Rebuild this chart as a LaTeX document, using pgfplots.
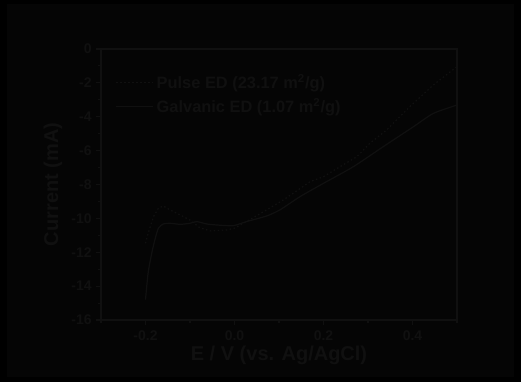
\documentclass[border=0pt]{standalone}
\usepackage{fontspec}
\setmainfont{Liberation Sans}
\usepackage{pgfplots}
\pgfplotsset{compat=1.18}
\definecolor{fg}{RGB}{16,16,16}
\definecolor{innerbg}{RGB}{5,5,5}
\begin{document}
\begin{tikzpicture}[x=0.75pt,y=0.75pt]
\fill[black] (0,0) rectangle (521,382);
\fill[innerbg] (7,5) rectangle (514,378);
\begin{axis}[
  at={(101pt*0.75,62pt*0.75)}, anchor=south west,
  scale only axis, width=267pt, height=203.25pt,
  xmin=-0.3, xmax=0.5, ymin=-16, ymax=0,
  xtick={-0.2,0,0.2,0.4}, minor xtick={-0.3,-0.1,0.1,0.3,0.5},
  ytick={0,-2,-4,-6,-8,-10,-12,-14,-16},
  minor ytick={-1,-3,-5,-7,-9,-11,-13,-15},
  xticklabels={-0.2,0.0,0.2,0.4},
  axis line style={fg, line width=0.8pt},
  every tick/.style={fg, line width=0.8pt},
  tick align=outside, xtick pos=bottom, ytick pos=left,
  major tick length=3.5pt, minor tick length=2pt,
  /pgf/number format/assume math mode=true,
  ticklabel style={font=\bfseries\fontsize{10.5}{12}\selectfont, text=fg},
  xticklabel style={yshift=-1pt},
  label style={font=\bfseries\fontsize{15}{17}\selectfont, text=fg},
  xlabel={E / V (vs. Ag/AgCl)},
  ylabel={Current (mA)},
  xlabel style={at={(axis description cs:0.5,-0.132)}, anchor=center},
  ylabel style={at={(axis description cs:-0.135,0.5)}, anchor=center, rotate=0},
  legend style={at={(axis description cs:0.04,0.915)}, anchor=north west,
    draw=none, fill=none, font=\bfseries\fontsize{12.3}{14}\selectfont, text=fg,
    row sep=2pt, inner sep=0pt},
  legend cell align=left,
  legend image code/.code={\draw[#1] (0pt,0pt) -- (28pt,0pt);},
]
\addplot[fg, line width=0.9pt, dash pattern=on 1.1pt off 1.9pt] coordinates {
(-0.2,-11.47) (-0.194,-10.88) (-0.182,-9.9) (-0.171,-9.4) (-0.16,-9.27)
(-0.145,-9.5) (-0.122,-9.8) (-0.1,-10.1) (-0.078,-10.55) (-0.055,-10.74)
(-0.017,-10.68) (0.0,-10.58) (0.027,-10.19) (0.072,-9.5) (0.11,-8.91)
(0.17,-7.83) (0.2,-7.54) (0.237,-6.95) (0.275,-6.36) (0.304,-5.57)
(0.342,-4.78) (0.394,-3.4) (0.447,-2.12) (0.5,-1.04)
};
\addlegendentry{Pulse ED (23.17 m\textsuperscript{2}/g)}
\addplot[fg, line width=0.9pt, smooth, tension=0.4] coordinates {
(-0.2,-14.8) (-0.194,-13.2) (-0.186,-12.06) (-0.179,-11.27) (-0.171,-10.58)
(-0.16,-10.33) (-0.145,-10.29) (-0.122,-10.35) (-0.1,-10.29) (-0.085,-10.19)
(-0.0625,-10.33) (-0.04,-10.39) (-0.003,-10.43) (0.027,-10.19) (0.072,-9.86)
(0.102,-9.5) (0.147,-8.72) (0.2,-7.93) (0.267,-6.95) (0.334,-5.77)
(0.402,-4.59) (0.447,-3.8) (0.5,-3.31)
};
\addlegendentry{Galvanic ED (1.07 m\textsuperscript{2}/g)}
\end{axis}
\end{tikzpicture}
\end{document}
